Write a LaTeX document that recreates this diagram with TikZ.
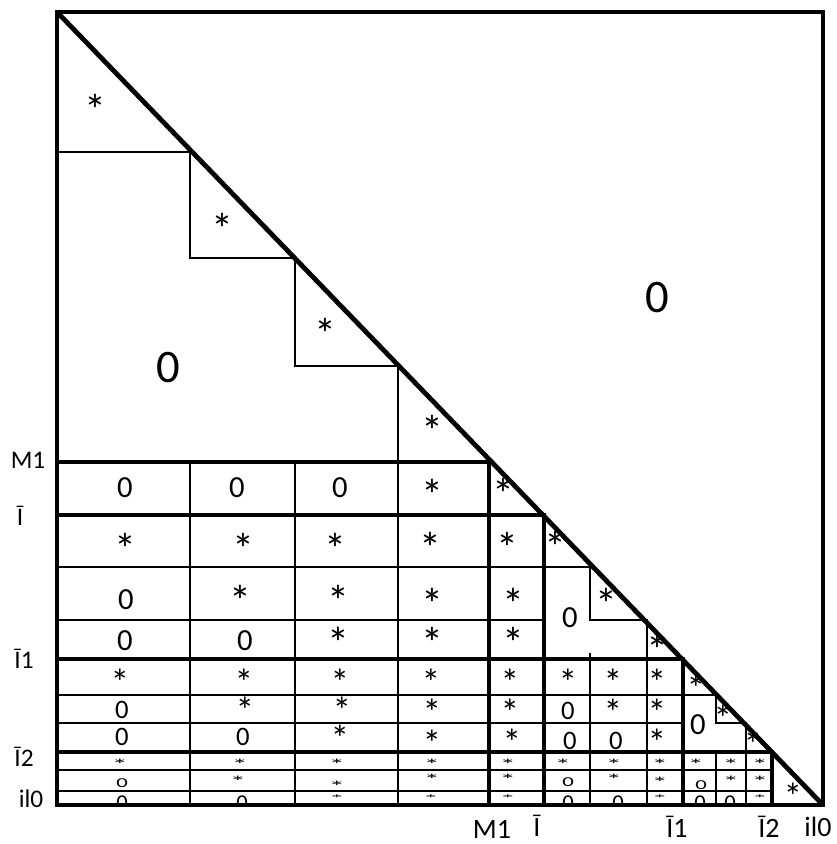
\documentclass[tikz,border=0pt]{standalone}
\usepackage{fontspec}
\usepackage{graphicx}
\setmainfont{Carlito}
\newcommand{\vsquash}[2][0.6]{\scalebox{1}[#1]{#2}}
\newcommand{\lowast}[1][0.55]{\scalebox{1.25}[#1]{*}}
\tikzset{
  thinln/.style={line width=1pt},
  thickln/.style={line width=3pt},
  rimln/.style={line width=3.6pt},
  bigent/.style={font=\fontsize{35}{35}\selectfont, inner sep=0pt},
  enta/.style={font=\fontsize{23}{23}\selectfont, inner sep=0pt},
  entb/.style={font=\fontsize{20}{20}\selectfont, inner sep=0pt},
  entc/.style={font=\fontsize{17}{17}\selectfont, inner sep=0pt},
  asta/.style={font=\fontsize{33}{33}\selectfont, inner sep=0pt, yshift=-5.4pt},
  astb/.style={font=\fontsize{28}{28}\selectfont, inner sep=0pt, yshift=-4.6pt},
  astc/.style={font=\fontsize{20}{20}\selectfont, inner sep=0pt, yshift=-1.8pt},
  sidelbl/.style={font=\fontsize{19}{19}\selectfont, anchor=base, inner sep=0pt},
  footlbl/.style={font=\fontsize{21}{21}\selectfont, anchor=base, inner sep=0pt},
}

\begin{document}
\begin{tikzpicture}[x=0.75pt,y=-0.75pt]
\useasboundingbox (0,0) rectangle (837,844);

% entries, clipped to the frame
\begin{scope}
\clip (57,12) rectangle (823,805);
\node[bigent] (zlow) at (168,368) {0};
\node[bigent] (zup) at (657,298) {0};
\foreach \x/\y [count=\k] in {95/103,222/222,325/327,432/424}
  \node[asta] (d\k) at (\x,\y) {*};
% rows M1 .. I1
\foreach \x in {125,237,340} \node[enta] (ra-\x) at (\x,488) {0};
\foreach \x/\y in {432/488,503/487} \node[asta] (sa-\x) at (\x,\y) {*};
\foreach \x/\y in {125/542,243/542,335/542,430/541,507/541,555/540}
  \node[asta] (sb-\x) at (\x,\y) {*};
\node[enta] (rc-126) at (126,600) {0};
\foreach \x/\y in {240/594,338/594,432/597,513/597,606/597}
  \node[asta] (sc-\x) at (\x,\y) {*};
\foreach \x in {125,245} \node[enta] (rd-\x) at (\x,641) {0};
\foreach \x/\y in {338/636,432/636,513/636,657/643}
  \node[asta] (sd-\x) at (\x,\y) {*};
\node[enta] (zbar) at (570,618) {0};
% rows I1 .. I2
\foreach \x in {120,244,340,431,510,568,613,657}
  \node[astb] (se-\x) at (\x,676) {*};
\node[astb] (se-696) at (696,682) {*};
\foreach \x/\y in {122/710,568/711} \node[entb] (rf-\x) at (\x,\y) {0};
\foreach \x/\y in {245/704,342/704,432/706,510/706,613/706,657/706,723/712}
  \node[astb] (sf-\x) at (\x,\y) {*};
\foreach \x/\y in {122/737,243/737,570/741,616/741} \node[entb] (rg-\x) at (\x,\y) {0};
\foreach \x/\y in {340/732,432/737,512/736,657/736,753/738}
  \node[astb] (sg-\x) at (\x,\y) {*};
\node[enta] (zbarone) at (698,725) {0};
% rows I2 .. il0
\foreach \x in {120,240,337,432,508,563,614,660,696,731,760}
  \node[astc] (sh-\x) at (\x,762) {\lowast};
\foreach \x/\y in {122/783,568/782,701/785} \node[entc] (ri-\x) at (\x,\y) {\vsquash{0}};
\foreach \x/\y in {238/779,337/784,432/777,508/777,614/777,660/780,731/779,760/779}
  \node[astc] (si-\x) at (\x,\y) {\lowast};
\foreach \x in {122,242,568,618,700,730} \node[entc] (rj-\x) at (\x,803) {0};
\foreach \x in {337,431,508,660,760}
  \node[astc,yshift=0.6pt] (sj-\x) at (\x,797) {\lowast[0.35]};
\node[astb] (sbartwo) at (793,790) {*};
\end{scope}

% thin grid lines
\draw[thinln] (57,152) -- (190,152) -- (190,258) -- (295,258) -- (295,366)
  -- (398,366) -- (398,805);
\draw[thinln] (190,462) -- (190,805);
\draw[thinln] (295,462) -- (295,805);
\draw[thinln] (57,567) -- (590,567) -- (590,620) -- (647,620) -- (647,805);
\draw[thinln] (57,620) -- (544,620);
\draw[thinln] (590,653) -- (590,805);
\draw[thinln] (57,695) -- (716,695) -- (716,723) -- (746,723) -- (746,752);
\draw[thinln] (57,723) -- (683,723);
\draw[thinln] (716,752) -- (716,805);
\draw[thinln] (746,752) -- (746,805);
\draw[thinln] (57,770) -- (772,770);
\draw[thinln] (57,791) -- (772,791);

% thick block lines
\draw[thickln] (57,462) -- (489,462) -- (489,805);
\draw[thickln] (57,515) -- (544,515) -- (544,805);
\draw[thickln] (57,659) -- (683,659) -- (683,805);
\draw[thickln] (57,752) -- (772,752) -- (772,805);
\draw[rimln] (57,12) rectangle (823,805);
\draw[rimln] (57,12) -- (823,805);

% block labels
\node[sidelbl] (lm1) at (28,468) {M1};
\node[sidelbl] (lbar) at (20,525) {Ī};
\node[sidelbl] (lbarone) at (24,668) {Ī1};
\node[sidelbl] (lbartwo) at (24,766) {Ī2};
\node[sidelbl] (lil0) at (31,807) {il0};
\node[footlbl] (bm1) at (492,838) {M1};
\node[footlbl] (bbar) at (537,836) {Ī};
\node[footlbl] (bbarone) at (677,837) {Ī1};
\node[footlbl] (bbartwo) at (769,837) {Ī2};
\node[footlbl] (bil0) at (818,836) {il0};
\end{tikzpicture}
\end{document}
